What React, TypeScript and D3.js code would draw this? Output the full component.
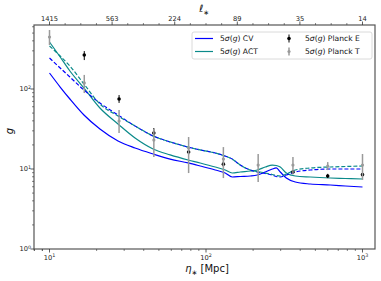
import React from "react";
import * as d3 from "d3";

// ---------- data ----------
const etaGrid = [10, 11.7, 13.5, 16.6, 21, 27.4, 35.2, 45.9, 59, 76.9, 91.8, 114.5, 132.7, 147.1, 165.5, 191.8, 212.6, 239.2, 265.2, 281.3, 298.3, 326, 372.2, 464.2, 623.2, 777.4, 1000];
const cvSolid = [158.5, 105.9, 75.0, 47.3, 31.6, 22.4, 18.3, 15.4, 13.3, 11.9, 10.9, 9.72, 8.91, 7.94, 8.06, 8.18, 8.41, 9.17, 10.0, 10.3, 9.17, 7.72, 6.88, 6.49, 6.31, 6.13, 5.96];
const actSolid = [386.7, 251.2, 167.9, 102.9, 57.9, 36.5, 24.4, 17.8, 15.0, 12.96, 11.9, 10.6, 9.72, 8.91, 9.17, 9.44, 9.72, 10.6, 11.2, 11.05, 10.6, 8.91, 8.18, 7.94, 7.72, 7.61, 7.5];
const cvDashed = [244.1, 183.0, 141.3, 97.2, 66.8, 47.3, 34.5, 25.9, 21.8, 18.8, 17.3, 15.85, 14.5, 13.3, 11.2, 9.72, 9.17, 8.78, 8.41, 8.06, 7.94, 8.41, 9.17, 9.72, 10.0, 10.0, 10.0];
const actDashed = [344.7, 258.5, 193.9, 115.5, 64.9, 46.0, 34.5, 25.9, 21.8, 18.8, 17.3, 15.85, 14.5, 13.3, 11.2, 9.72, 9.31, 8.91, 8.54, 8.29, 8.18, 8.66, 9.72, 10.3, 10.6, 10.75, 10.9];

const planckEta = [10, 16.68, 27.83, 46.42, 77.43, 129.15, 215.44, 359.38, 599.48, 1000];
const planckT = [447, 119, 39.8, 23.0, 18.3, 13.3, 11.2, 11.2, 10.9, 11.2];
const planckTLo = [355, 89, 28.2, 14.1, 8.9, 7.7, 6.9, 8.66, 9.7, 7.3];
const planckTHi = [546, 150, 54.6, 31.6, 25.1, 18.8, 15.4, 14.1, 12.2, 15.4];
const planckE: (number | null)[] = [null, 266, 75, 28.2, 16.3, 11.5, null, 9.17, 8.18, 8.5];
const planckELo: (number | null)[] = [null, 230, 67, 25.1, 15.0, 10.6, null, 8.6, 7.7, 8.0];
const planckEHi: (number | null)[] = [null, 298, 84, 32.5, 17.8, 12.6, null, 9.7, 8.7, 9.0];

const topTickEta = [10, 25.12, 63.1, 158.5, 398.1, 1000];
const topTickLabels = ["1415", "563", "224", "89", "35", "14"];
const xMajor = [10, 100, 1000];
const xMajorExp = ["1", "2", "3"];
const yMajor = [1, 10, 100];
const yMajorExp = ["0", "1", "2"];

const BLUE = "#0000ff";
const TEAL = "#0b8a8a";
const GRAY = "#9a9a9a";

export default function App() {
  const W = 381, H = 281;
  const L = 34, R = 375, T = 25, B = 249;
  const x = d3.scaleLog().domain([7.96, 1202]).range([L, R]);
  const y = d3.scaleLog().domain([1, 631]).range([B, T]);

  const line = (vals: number[]) =>
    d3.line<number>().x((_, i) => x(etaGrid[i])).y((d) => y(d)).curve(d3.curveMonotoneX)(vals) || "";

  const font = "DejaVu Sans, sans-serif";

  // minor ticks
  const xMinor: number[] = [];
  [1, 10, 100, 1000].forEach((dec) => {
    for (let k = 2; k <= 9; k++) {
      const v = dec * k;
      if (v > 7.96 && v < 1202) xMinor.push(v);
    }
  });
  [0.8, 0.9].forEach((v) => { if (v * 10 >= 7.96) xMinor.push(v * 10); });
  const yMinor: number[] = [];
  [1, 10, 100].forEach((dec) => {
    for (let k = 2; k <= 9; k++) {
      const v = dec * k;
      if (v < 631) yMinor.push(v);
    }
  });
  const topMinor: number[] = [];
  for (let i = 0; i < topTickEta.length; i++) {
    const lg = Math.log10(topTickEta[i]);
    for (const off of [-0.3, -0.2, -0.1, 0.1, 0.2, 0.3]) {
      const v = Math.pow(10, lg + off);
      if (v > 7.96 && v < 1202 && !(off < 0 && i > 0)) topMinor.push(v);
    }
  }

  const fs = 6.7;
  const tickCol = "#333";

  return (
    <svg width={W} height={H} style={{ position: "absolute", left: 0, top: 0, background: "#fff" }} fontFamily={font}>
      <defs>
        <clipPath id="plot">
          <rect x={L} y={T} width={R - L} height={B - T} />
        </clipPath>
      </defs>
      <rect x={0} y={0} width={W} height={H} fill="#fff" />

      <g clipPath="url(#plot)" fill="none">
        <path d={line(cvSolid)} stroke={BLUE} strokeWidth={1.2} />
        <path d={line(actSolid)} stroke={TEAL} strokeWidth={1.2} />
        <path d={line(cvDashed)} stroke={BLUE} strokeWidth={1.2} strokeDasharray="4,2" />
        <path d={line(actDashed)} stroke={TEAL} strokeWidth={1.2} strokeDasharray="4,2" />

        {planckEta.map((e, i) =>
          planckE[i] == null ? null : (
            <g key={"e" + i}>
              <line x1={x(e)} x2={x(e)} y1={y(planckELo[i] as number)} y2={y(planckEHi[i] as number)} stroke="#000" strokeWidth={1} />
              <circle cx={x(e)} cy={y(planckE[i] as number)} r={1.8} fill="#000" />
            </g>
          )
        )}
        {planckEta.map((e, i) => (
          <g key={"t" + i}>
            <line x1={x(e)} x2={x(e)} y1={y(planckTLo[i])} y2={y(planckTHi[i])} stroke={GRAY} strokeWidth={1.5} />
            <circle cx={x(e)} cy={y(planckT[i])} r={1.6} fill={GRAY} />
          </g>
        ))}
      </g>

      {/* spines */}
      <rect x={L} y={T} width={R - L} height={B - T} fill="none" stroke="#555" strokeWidth={1.2} />

      {/* bottom ticks */}
      {xMajor.map((v, i) => (
        <g key={"xm" + i}>
          <line x1={x(v)} x2={x(v)} y1={B} y2={B + 3.5} stroke={tickCol} strokeWidth={0.8} />
          <text x={x(v)} y={260} fontSize={fs} textAnchor="middle" fill="#222">
            10<tspan dy={-2.8} fontSize={4.8}>{xMajorExp[i]}</tspan>
          </text>
        </g>
      ))}
      {xMinor.map((v, i) => (
        <line key={"xn" + i} x1={x(v)} x2={x(v)} y1={B} y2={B + 2} stroke={tickCol} strokeWidth={0.6} />
      ))}

      {/* top ticks */}
      {topTickEta.map((v, i) => (
        <g key={"tm" + i}>
          <line x1={x(v)} x2={x(v)} y1={T} y2={T - 3.5} stroke={tickCol} strokeWidth={0.8} />
          <text x={x(v)} y={20.5} fontSize={fs} textAnchor="middle" fill="#222">{topTickLabels[i]}</text>
        </g>
      ))}
      {topMinor.map((v, i) => (
        <line key={"tn" + i} x1={x(v)} x2={x(v)} y1={T} y2={T - 2} stroke={tickCol} strokeWidth={0.6} />
      ))}
      <text x={204} y={12} fontSize={10} textAnchor="middle" fill="#111" fontStyle="italic">
        ℓ<tspan dy={2.5} fontSize={7} fontStyle="normal">∗</tspan>
      </text>

      {/* left ticks */}
      {yMajor.map((v, i) => (
        <g key={"ym" + i}>
          <line x1={L} x2={L - 3.5} y1={y(v)} y2={y(v)} stroke={tickCol} strokeWidth={0.8} />
          <text x={31} y={y(v) + 2.4} fontSize={fs} textAnchor="end" fill="#222">
            10<tspan dy={-2.8} fontSize={4.8}>{yMajorExp[i]}</tspan>
          </text>
        </g>
      ))}
      {yMinor.map((v, i) => (
        <line key={"yn" + i} x1={L} x2={L - 2} y1={y(v)} y2={y(v)} stroke={tickCol} strokeWidth={0.6} />
      ))}

      {/* axis labels */}
      <text transform="translate(13,131) rotate(-90)" fontSize={10} textAnchor="middle" fontStyle="italic" fill="#111">g</text>
      <text x={207} y={272} fontSize={10} textAnchor="middle" fill="#111">
        <tspan fontStyle="italic">η</tspan><tspan dy={2.5} fontSize={7}>∗</tspan><tspan dy={-2.5}> [Mpc]</tspan>
      </text>

      {/* legend */}
      <rect x={192} y={32} width={180} height={27} rx={2} fill="#fff" fillOpacity={0.85} stroke="#d0d0d0" strokeWidth={0.8} />
      <line x1={195} x2={213} y1={38.5} y2={38.5} stroke={BLUE} strokeWidth={1.2} />
      <line x1={195} x2={213} y1={51.5} y2={51.5} stroke={TEAL} strokeWidth={1.2} />
      <text x={220} y={41.3} fontSize={7.6} fill="#111">5<tspan fontStyle="italic">σ</tspan>(<tspan fontStyle="italic">g</tspan>) CV</text>
      <text x={220} y={54.3} fontSize={7.6} fill="#111">5<tspan fontStyle="italic">σ</tspan>(<tspan fontStyle="italic">g</tspan>) ACT</text>
      <line x1={289} x2={289} y1={34.5} y2={42.5} stroke="#000" strokeWidth={1} />
      <circle cx={289} cy={38.5} r={1.8} fill="#000" />
      <line x1={289} x2={289} y1={47.5} y2={55.5} stroke={GRAY} strokeWidth={1.5} />
      <circle cx={289} cy={51.5} r={1.6} fill={GRAY} />
      <text x={305} y={41.3} fontSize={7.6} fill="#111">5<tspan fontStyle="italic">σ</tspan>(<tspan fontStyle="italic">g</tspan>) Planck E</text>
      <text x={305} y={54.3} fontSize={7.6} fill="#111">5<tspan fontStyle="italic">σ</tspan>(<tspan fontStyle="italic">g</tspan>) Planck T</text>
    </svg>
  );
}
